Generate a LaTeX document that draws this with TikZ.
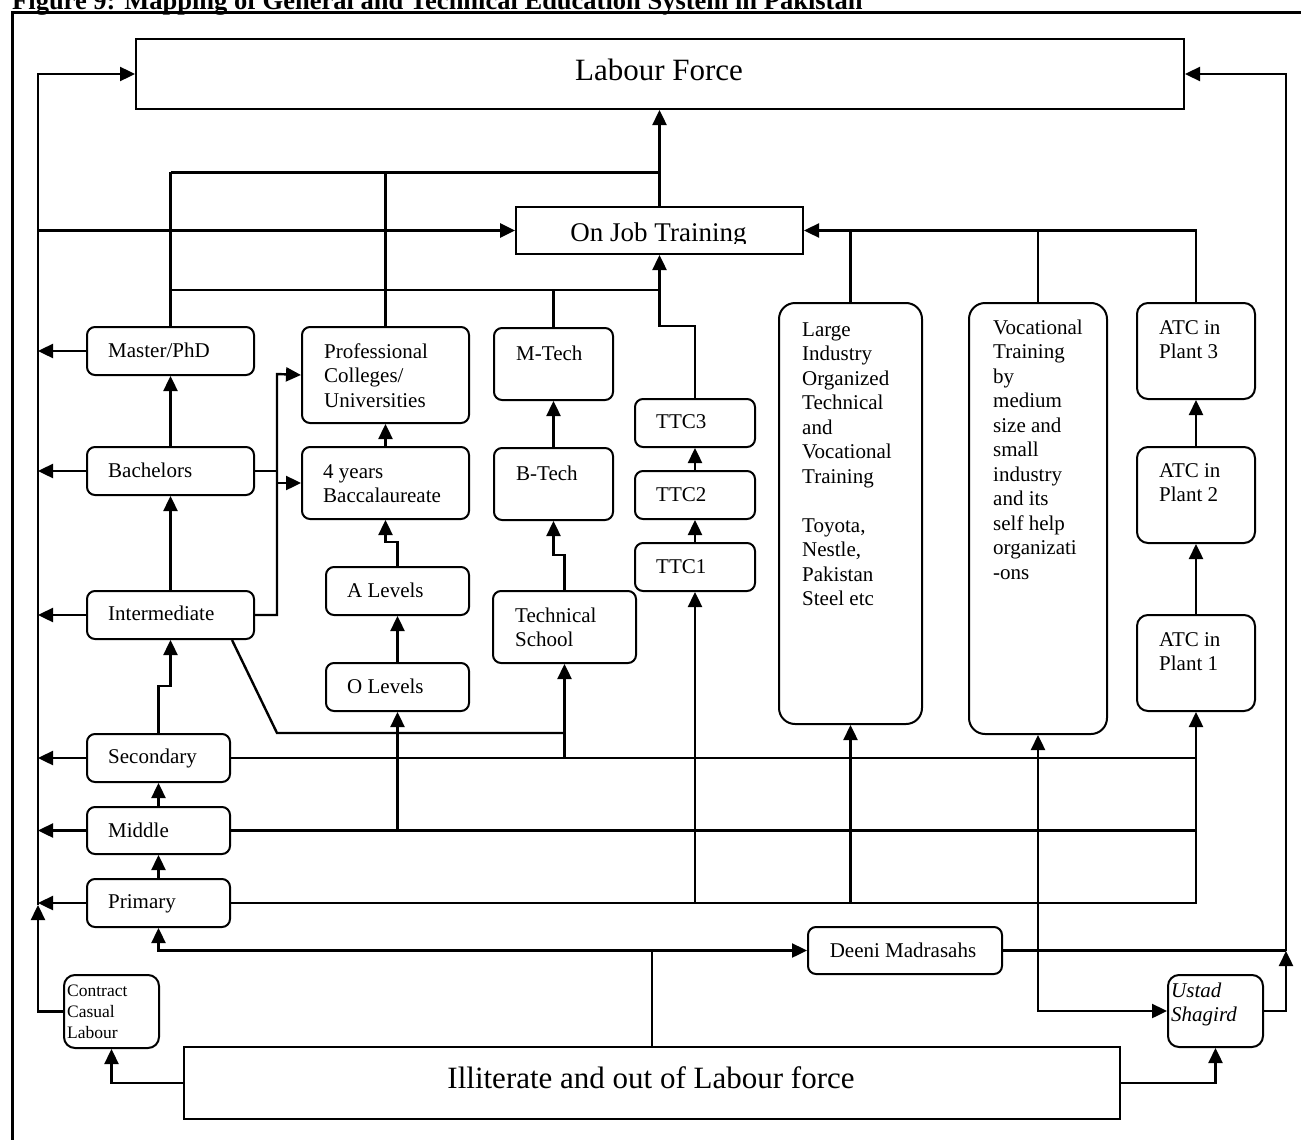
\documentclass[tikz,border=0pt]{standalone}
\usepackage{fontspec}
\setmainfont{Liberation Serif}
\usetikzlibrary{arrows.meta}
% multi-line label whose baseline is that of its first line
\newcommand{\ml}[1]{\begin{tabular}[t]{@{}l@{}}#1\end{tabular}}

\begin{document}
\begin{tikzpicture}[x=1pt,y=-1pt,
  conn/.style={line width=2.4pt},
  heavy/.style={line width=3pt},
  arr/.style={conn,-{Triangle[length=15pt,width=14pt]}},
  arrboth/.style={conn,{Triangle[length=15pt,width=14pt]}-{Triangle[length=15pt,width=14pt]}},
  stage/.style={draw,line width=2pt,rounded corners=8pt,inner sep=0pt,anchor=north west},
  tallstage/.style={stage,rounded corners=16pt},
  plant/.style={stage,rounded corners=11pt},
  bigbox/.style={draw,line width=2pt,inner sep=0pt,anchor=north west},
  lbl/.style={anchor=base west,inner sep=0pt,font=\fontsize{21}{24.5}\selectfont},
  bigtxt/.style={anchor=base,inner sep=0pt,font=\fontsize{31}{36}\selectfont},
]
\useasboundingbox (0,0) rectangle (1301,1140);
\fill[white] (0,0) rectangle (1301,1140);
\clip (0,0) rectangle (1301,1140);

% caption and frame
\node[anchor=base west,inner sep=0pt,font=\bfseries\fontsize{26.5}{30}\selectfont] (title) at (12,10)
  {Figure 9: Mapping of General and Technical Education System in Pakistan};
\draw[line width=3pt] (12,1160) -- (12,13) -- (1320,13);

% ---------- boxes ----------
\node[bigbox,minimum width=1048pt,minimum height=70pt] (lab) at (135,38) {};
\node[bigbox,minimum width=287pt,minimum height=47pt] (ojt) at (515,206) {};
\node[bigbox,minimum width=936pt,minimum height=72pt] (illit) at (183,1046) {};

\node[stage,minimum width=167pt,minimum height=48pt] (mphd) at (86,326) {};
\node[stage,minimum width=167pt,minimum height=48pt] (bach) at (86,446) {};
\node[stage,minimum width=167pt,minimum height=48pt] (inter) at (86,590) {};
\node[stage,minimum width=143pt,minimum height=48pt] (sec) at (86,733) {};
\node[stage,minimum width=143pt,minimum height=47pt] (mid) at (86,806) {};
\node[stage,minimum width=143pt,minimum height=48pt] (prim) at (86,878) {};

\node[stage,minimum width=167pt,minimum height=96pt] (prof) at (301,326) {};
\node[stage,minimum width=167pt,minimum height=72pt] (bacc) at (301,446) {};
\node[stage,minimum width=143pt,minimum height=48pt] (alev) at (325,566) {};
\node[stage,minimum width=143pt,minimum height=48pt] (olev) at (325,662) {};

\node[stage,minimum width=119pt,minimum height=72pt] (mtech) at (493,327) {};
\node[stage,minimum width=119pt,minimum height=72pt] (btech) at (493,447) {};
\node[stage,minimum width=143pt,minimum height=72pt] (tech) at (492,590) {};

\node[stage,minimum width=120pt,minimum height=48pt] (ttc3) at (634,398) {};
\node[stage,minimum width=120pt,minimum height=48pt] (ttc2) at (634,470) {};
\node[stage,minimum width=120pt,minimum height=48pt] (ttc1) at (634,542) {};

\node[tallstage,minimum width=143pt,minimum height=421pt] (large) at (778,302) {};
\node[tallstage,minimum width=138pt,minimum height=431pt] (voc) at (968,302) {};

\node[plant,minimum width=118pt,minimum height=96pt] (atc3) at (1136,302) {};
\node[plant,minimum width=118pt,minimum height=96pt] (atc2) at (1136,446) {};
\node[plant,minimum width=118pt,minimum height=96pt] (atc1) at (1136,614) {};

\node[stage,minimum width=194pt,minimum height=47pt] (deeni) at (807,926) {};
\node[plant,minimum width=95pt,minimum height=72pt] (ustad) at (1167,974) {};
\node[plant,minimum width=95pt,minimum height=73pt] (contract) at (63,974) {};

% ---------- labels ----------
\node[bigtxt] (lab-t) at (659,81) {Labour Force};
\begin{scope}
  \clip (515,206) rectangle (802,243);
  \node[anchor=base,inner sep=0pt,font=\fontsize{27}{32}\selectfont] (ojt-t) at (658.5,241) {On Job Training};
\end{scope}
\node[bigtxt] (illit-t) at (651,1088) {Illiterate and out of Labour force};

\node[lbl] (mphd-t) at (108,357) {Master/PhD};
\node[lbl] (bach-t) at (108,477) {Bachelors};
\node[lbl] (inter-t) at (108,620) {Intermediate};
\node[lbl] (sec-t) at (108,763) {Secondary};
\node[lbl] (mid-t) at (108,837) {Middle};
\node[lbl] (prim-t) at (108,908) {Primary};

\node[lbl] (prof-t) at (324,358) {\ml{Professional\\Colleges/\\Universities}};
\node[lbl] (bacc-t) at (323,478) {\ml{4 years\\Baccalaureate}};
\node[lbl] (alev-t) at (347,597) {A Levels};
\node[lbl] (olev-t) at (347,693) {O Levels};

\node[lbl] (mtech-t) at (516,360) {M-Tech};
\node[lbl] (btech-t) at (516,480) {B-Tech};
\node[lbl] (tech-t) at (515,622) {\ml{Technical\\School}};

\node[lbl] (ttc3-t) at (656,428) {TTC3};
\node[lbl] (ttc2-t) at (656,501) {TTC2};
\node[lbl] (ttc1-t) at (656,573) {TTC1};

\node[lbl] (large-t) at (802,336) {\ml{Large\\Industry\\Organized\\Technical\\and\\Vocational\\Training\\ \\Toyota,\\Nestle,\\Pakistan\\Steel etc}};
\node[lbl] (voc-t) at (993,334) {\ml{Vocational\\Training\\by\\medium\\size and\\small\\industry\\and its\\self help\\organizati\\-ons}};

\node[lbl] (atc3-t) at (1159,334) {\ml{ATC in\\Plant 3}};
\node[lbl] (atc2-t) at (1159,477) {\ml{ATC in\\Plant 2}};
\node[lbl] (atc1-t) at (1159,646) {\ml{ATC in\\Plant 1}};

\node[anchor=base,inner sep=0pt,font=\fontsize{21}{24.5}\selectfont] (deeni-t) at (903,957) {Deeni Madrasahs};
\node[lbl,font=\itshape\fontsize{21}{24.5}\selectfont] (ustad-t) at (1171,997) {\ml{Ustad\\Shagird}};
\node[lbl,font=\fontsize{17.5}{21}\selectfont] (contract-t) at (67,996) {\ml{Contract\\Casual\\Labour}};

% ---------- connectors ----------
\coordinate (spine) at (38,905);
\coordinate (rsp) at (1286,951);
\coordinate (bj) at (277,374);

% left collector into the labour force
\draw[arr] (spine) |- (lab.west);
\draw[arr] (contract.west) -| (spine);
\draw[arr,heavy] (spine |- ojt.west) -- (ojt.west);
\foreach \n in {mphd,bach,inter,sec,mid,prim}
  \draw[arr] (\n.west) -- (spine |- \n.west);

% right collector into the labour force
\draw[arr] (rsp |- deeni.east) |- (lab.east);
\draw[conn] (deeni.east) -- (rsp |- deeni.east);
\draw[arr] (ustad.east) -| (rsp);

% into labour force and on job training from above
\draw[arr] (ojt.north) -- (ojt.north |- lab.south);
\draw[heavy] (mphd.north |- 0,172) -- (ojt.north |- 0,172);
\draw[conn] (mphd.north) -- (mphd.north |- 0,172);
\draw[conn] (prof.north) -- (prof.north |- 0,172);
\draw[conn] (mphd.north |- 0,290) -- (ojt.north |- 0,290);
\draw[conn] (mtech.north) -- (mtech.north |- 0,290);
\draw[arr] (ttc3.north) |- (ojt.south |- 0,326) -- (ojt.south);

\draw[arr] (atc3.north) |- (ojt.east);
\draw[conn] (large.north) -- (large.north |- ojt.east);
\draw[conn] (voc.north) -- (voc.north |- ojt.east);

% general education ladder
\draw[arr] (bach.north) -- (mphd.south);
\draw[arr] (inter.north) -- (bach.south);
\draw[arr] (sec.north) |- (inter.south |- 0,686) -- (inter.south);
\draw[arr] (mid.north) -- (sec.south);
\draw[arr] (prim.north) -- (mid.south);

\draw[arr] (inter.east) -| (bj) -- (prof.west);
\draw[conn] (bach.east) -- (bj |- bach.east);
\draw[arr] (bj |- bacc.west) -- (bacc.west);

% intermediate to technical school
\draw[conn] ([xshift=-23pt]inter.south east) -- (bj |- 0,733) -- (tech.south |- 0,733);

% technical ladder
\draw[arr] (tech.south |- sec.east) -- (tech.south);
\draw[arr] (tech.north) |- (btech.south |- 0,555) -- (btech.south);
\draw[arr] (btech.north) -- (mtech.south);

% O/A levels
\draw[arr] (olev.south |- mid.east) -- (olev.south);
\draw[arr] (olev.north) -- (alev.south);
\draw[arr] (alev.north) |- (bacc.south |- 0,542) -- (bacc.south);
\draw[arr] (bacc.north) -- (prof.south);

% TTC ladder
\draw[arr] (ttc1.south |- prim.east) -- (ttc1.south);
\draw[arr] (ttc1.north) -- (ttc2.south);
\draw[arr] (ttc2.north) -- (ttc3.south);

% level lines to the plants
\draw[conn] (sec.east) -- (atc1.south |- sec.east);
\draw[conn] (mid.east) -- (atc1.south |- mid.east);
\draw[arr] (prim.east) -| (atc1.south);
\draw[arr] (large.south |- prim.east) -- (large.south);
\draw[arr] (atc1.north) -- (atc2.south);
\draw[arr] (atc2.north) -- (atc3.south);

% vocational training and ustad shagird
\draw[arrboth] (voc.south) |- (ustad.west);

% out of the illiterate pool
\draw[arr] (illit.north) |- (prim.south |- deeni.west) -- (prim.south);
\draw[arr] (illit.north |- deeni.west) -- (deeni.west);
\draw[arr] (illit.west) -| (contract.south);
\draw[arr] (illit.east) -| (ustad.south);
\end{tikzpicture}
\end{document}
